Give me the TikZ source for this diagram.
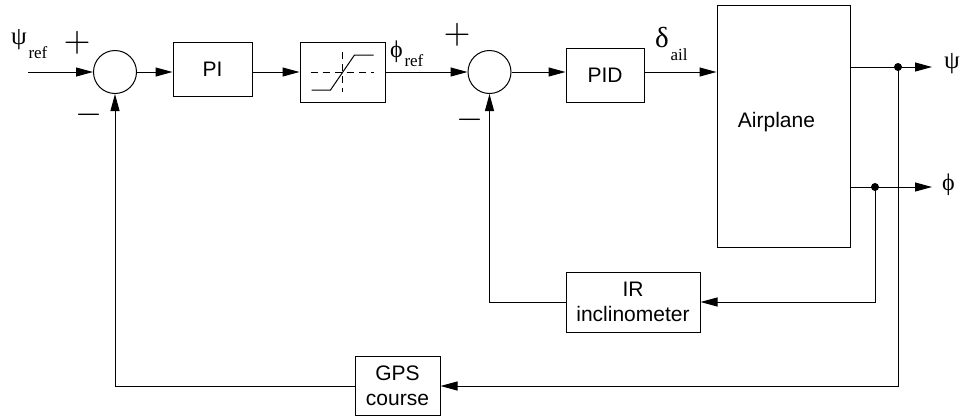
\documentclass[tikz,border=0pt]{standalone}
\usepackage{fontspec}
\setmainfont{Liberation Sans}
\newfontfamily\grkfont{Liberation Serif}
\usepackage{graphicx}
\usepackage{tikz}
\usetikzlibrary{arrows.meta, positioning, calc}

% greek signal name with a lowered index
\newcommand{\signame}[4]{{\grkfont\fontsize{#1}{#1}\selectfont #2}\,\raisebox{-#3pt}{\grkfont\fontsize{17}{17}\selectfont #4}}
% large thin summing sign
\newcommand{\pmsign}[1]{\resizebox{27pt}{!}{$#1$}}

\begin{document}
\begin{tikzpicture}[x=1pt, y=-1pt,
        block/.style={rectangle, draw, line width=1pt, inner sep=0pt, align=center, font=\fontsize{21}{25}\selectfont},
        sumnode/.style={circle, draw, line width=1pt, minimum size=43pt, inner sep=0pt},
        arrow/.style={-{Triangle[length=17pt, width=9pt]}, line width=1pt},
        sign/.style={inner sep=0pt},
        lbl/.style={inner sep=0pt, anchor=base west},
        junction/.style={circle, fill, inner sep=0pt, minimum size=8pt}
    ]
        \useasboundingbox (0,0) rectangle (962,416);

        % Outer loop
        \coordinate (in) at (28,72);
        \node[sumnode] (sum1) at (115,72) {};
        \node[block, minimum width=79pt, minimum height=54pt] (PI) at (212.5,69) {PI};
        \node[block, minimum width=85pt, minimum height=60pt] (sat) at (342.5,72) {};

        % Saturation
        \begin{scope}[shift={(sat.center)}]
            \draw[line width=1pt, dash pattern=on 7pt off 5pt] (-32,0) -- (31,0);
            \draw[line width=1pt, dash pattern=on 7pt off 5pt] (0,-20) -- (0,20);
            \draw[line width=1pt] (-31,18) -- (-12,18) -- (12,-17) -- (31,-17);
        \end{scope}

        % Inner loop
        \node[sumnode] (sum2) at (489.5,72) {};
        \node[block, minimum width=78pt, minimum height=54pt] (PID) at (605,75) {PID};
        \node[block, minimum width=133pt, minimum height=242pt] (plane) at (783.5,126) {\raisebox{12pt}{Airplane}\hspace*{14pt}};

        % Sensors
        \node[block, minimum width=134pt, minimum height=60pt] (IR) at (633,302) {IR\\inclinometer};
        \node[block, minimum width=85pt, minimum height=59pt] (GPS) at (397.5,386) {GPS\\course};

        % Outputs
        \node[junction] (dot1) at (898,67) {};
        \node[junction] (dot2) at (875,187) {};
        \coordinate (psiout) at (932,67);
        \coordinate (phiout) at (932,187);

        % Signal names and signs
        \node[lbl] (psiref) at (11,44) {\signame{25}{ψ}{14}{ref}};
        \node[lbl] (phiref) at (390,57) {\signame{24}{ϕ}{9}{ref}};
        \node[lbl] (dail) at (655,47) {\signame{29}{δ}{13}{ail}};
        \node[lbl] (psi) at (944,68) {\grkfont\fontsize{25}{25}\selectfont ψ};
        \node[lbl] (phi) at (942,190) {\grkfont\fontsize{24}{24}\selectfont ϕ};
        \node[sign] (plus1) at (77,43) {\pmsign{+}};
        \node[sign] (minus1) at (89,115) {\pmsign{-}};
        \node[sign] (plus2) at (457,35) {\pmsign{+}};
        \node[sign] (minus2) at (470,120) {\pmsign{-}};

        % Connectors
        \draw[arrow] (in) -- (sum1);
        \draw[arrow] (sum1) -- (sum1.east -| PI.west);
        \draw[arrow] (PI.east |- sat) -- (sat);
        \draw[arrow] (sat) -- (sum2);
        \draw[arrow] (sum2) -- (sum2.east -| PID.west);
        \draw[arrow] (sum2.east -| PID.east) -- (sum2.east -| plane.west);
        \draw[arrow] (dot1 -| plane.east) -- (psiout);
        \draw[arrow] (dot2 -| plane.east) -- (phiout);
        \draw[arrow, shorten <=-4pt] (dot2) |- (IR);
        \draw[arrow] (IR) -| (sum2);
        \draw[arrow, shorten <=-4pt] (dot1) |- (GPS);
        \draw[arrow] (GPS) -| (sum1);

    \end{tikzpicture}
\end{document}
